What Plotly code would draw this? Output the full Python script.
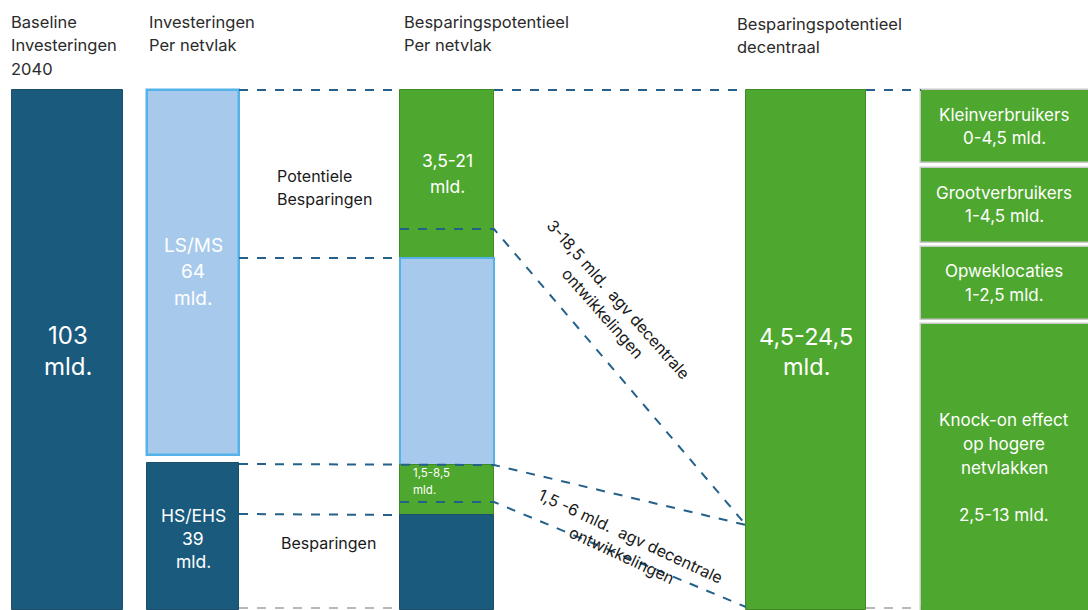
import plotly.graph_objects as go

# ---------------- data (labels / values) ----------------
headers = [["Baseline", "Investeringen", "2040"], ["Investeringen", "Per netvlak"],
           ["Besparingspotentieel", "Per netvlak"], ["Besparingspotentieel", "decentraal"]]
baseline_label = ["103", "mld."]
netvlak_labels = [["LS/MS", "64", "mld."], ["HS/EHS", "39", "mld."]]
potentieel_labels = [["3,5-21", "mld."], ["1,5-8,5", "mld."]]
decentraal_label = ["4,5-24,5", "mld."]
decentraal_parts = [["Kleinverbruikers", "0-4,5 mld."], ["Grootverbruikers", "1-4,5 mld."],
                    ["Opweklocaties", "1-2,5 mld."],
                    ["Knock-on effect", "op hogere", "netvlakken", "2,5-13 mld."]]
side_labels = [["Potentiele", "Besparingen"], ["Besparingen"]]
flow_labels = ["3-18,5 mld.  agv decentrale<br>ontwikkelingen",
               "1,5 -6 mld.  agv decentrale<br>ontwikkelingen"]

# ---------------- layout geometry (diagram units = pixels) ----------------
DARK = "#195a7d"
LIGHT = "#a7caec"
LIGHT_EDGE = "#55b2e8"
GREEN = "#4ea72e"
DASH = "#23618a"
FONT = "Inter"

# blocks: (x0, x1, top, bottom, fill, edge, edgewidth)
blocks = [
    (12, 123, 90, 610, DARK, "#1d4f6b", 1),
    (147, 239, 90, 455, LIGHT, LIGHT_EDGE, 2.5),
    (147, 239, 463, 610, DARK, "#1d4f6b", 1),
    (400, 494, 90, 258, GREEN, "#3f8a25", 1),
    (400, 494, 258, 465, LIGHT, LIGHT_EDGE, 2),
    (400, 494, 465, 515, GREEN, "#3f8a25", 1),
    (400, 494, 515, 610, DARK, "#1d4f6b", 1),
    (746, 866, 90, 610, GREEN, "#3f8a25", 1),
    (921, 1090, 90, 163, GREEN, "#c9c9c9", 1.5),
    (921, 1090, 168, 243, GREEN, "#c9c9c9", 1.5),
    (921, 1090, 247, 320, GREEN, "#c9c9c9", 1.5),
    (921, 1090, 324, 612, GREEN, "#c9c9c9", 1.5),
]

fig = go.Figure()
for x0, x1, top, bot, fill, edge, lw in blocks:
    fig.add_trace(go.Bar(x=[(x0 + x1) / 2], y=[bot - top], base=[top], width=[x1 - x0],
                         marker=dict(color=fill, line=dict(color=edge, width=lw)),
                         showlegend=False, hoverinfo="skip"))

# dashed connector lines
dashed = [
    ([239, 400], [90, 90]),
    ([239, 400], [258, 258]),
    ([494, 746], [90, 90]),
    ([866, 921], [90, 90]),
    ([400, 494, 746], [229, 229, 525]),
    ([239, 494, 746], [464, 465, 525]),
    ([239, 400], [514, 515]),
    ([400, 494, 746], [502, 502, 607]),
]
for xs, ys in dashed:
    fig.add_trace(go.Scatter(x=xs, y=ys, mode="lines", showlegend=False, hoverinfo="skip",
                             line=dict(color=DASH, width=2, dash="dash")))
for xs in ([239, 400], [866, 921]):
    fig.add_trace(go.Scatter(x=xs, y=[608, 608], mode="lines", showlegend=False, hoverinfo="skip",
                             line=dict(color="#b8b8b8", width=2, dash="dash")))

ann = []
def txt(x, y, t, size, color="white", xanchor="center", angle=0, align="center"):
    ann.append(dict(x=x, y=y, text=t, showarrow=False, xanchor=xanchor, yanchor="middle",
                    textangle=angle, align=align,
                    font=dict(family=FONT, size=size, color=color)))

def lines(x, ys, ts, size, color="white", xanchor="center"):
    for y, t in zip(ys, ts):
        txt(x, y, t, size, color, xanchor)

# headers
HC = "#2b2b2b"
lines(9, [22, 45, 69], headers[0], 16.5, HC, "left")
lines(147, [22, 45], headers[1], 16.5, HC, "left")
lines(402, [22, 45], headers[2], 16.5, HC, "left")
lines(735, [24, 47], headers[3], 16.5, HC, "left")

lines(67.5, [335, 366], baseline_label, 24)
lines(193, [245, 271, 298], netvlak_labels[0], 19)
lines(193, [515, 538, 561], netvlak_labels[1], 17.5)
lines(447, [160, 186], potentieel_labels[0], 17.5)
lines(411, [473, 490], potentieel_labels[1], 11.5, xanchor="left")
lines(806, [336, 366], decentraal_label, 23.5)
part_y = [[115, 138], [193, 216], [271, 295], [420, 444, 468, 515]]
for ys, t in zip(part_y, decentraal_parts):
    lines(1004, ys, t, 17)
lines(275, [176, 199], side_labels[0], 16, "#1a1a1a", "left")
lines(328, [543], side_labels[1], 16, "#1a1a1a")
txt(611, 306, flow_labels[0], 16, "#1a1a1a", angle=48.5)
txt(626, 545, flow_labels[1], 16, "#1a1a1a", angle=25)

fig.update_layout(
    width=1088, height=610, margin=dict(l=0, r=0, t=0, b=0),
    paper_bgcolor="white", plot_bgcolor="white", barmode="overlay", bargap=0,
    xaxis=dict(range=[0, 1088], visible=False, fixedrange=True),
    yaxis=dict(range=[610, 0], visible=False, fixedrange=True),
    annotations=ann,
)
fig.write_html("out.html")
